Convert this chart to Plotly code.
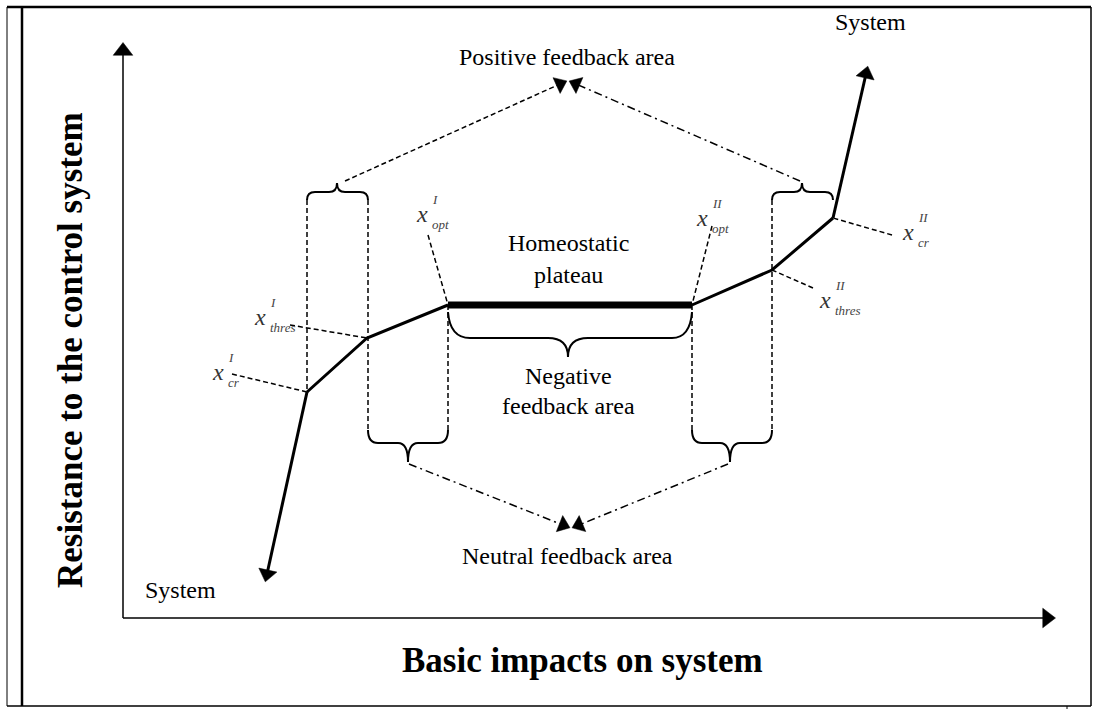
import plotly.graph_objects as go

# ---- data (diagram coordinates: impact -> x, resistance -> y, y grows downward) ----
curve_impact = [307, 367, 448]
curve_resist = [392, 338, 305]
plateau_impact = [448, 692]
plateau_resist = [305, 305]
curve2_impact = [692, 772, 833]
curve2_resist = [305, 270, 218]
low_arrow = ([307, 267], [392, 574])
high_arrow = ([833, 866], [218, 74])

point_labels = [
    # (sup, sub, label x, label y, leader x0, y0, x1, y1)
    ("I", "cr", 218, 372, 232, 374, 307, 392),
    ("I", "thres", 260, 317, 290, 325, 367, 338),
    ("I", "opt", 422, 214, 428, 235, 448, 305),
    ("II", "opt", 702, 218, 712, 226, 692, 305),
    ("II", "thres", 825, 300, 813, 288, 772, 270),
    ("II", "cr", 908, 232, 892, 235, 833, 218),
]

SERIF = "Liberation Serif"
DASH = "5px,3px"
DASHDOT = "8px,4px,2px,4px"
fig = go.Figure()


def line(xs, ys, width=1.5, dash="solid"):
    fig.add_trace(go.Scatter(x=xs, y=ys, mode="lines",
                             line=dict(color="black", width=width, dash=dash),
                             hoverinfo="skip", showlegend=False))


def arrow(xs, ys, width=1.5, dash="solid", size=14):
    line(xs, ys, width=width, dash=dash)
    fig.add_trace(go.Scatter(x=xs[-2:], y=ys[-2:], mode="markers",
                             marker=dict(symbol=["circle", "triangle-up"],
                                         size=[0, size], opacity=1,
                                         color="black", angleref="previous",
                                         line=dict(width=0.5, color="black")),
                             hoverinfo="skip", showlegend=False))


# axes
arrow([123, 123], [618, 51], width=1.5, size=17)
arrow([123, 1047], [618, 618], width=1.5, size=17)

# dashed vertical guides
line([307, 307], [200, 392], dash=DASH)
line([368, 368], [200, 432], dash=DASH)
line([448, 448], [305, 432], dash=DASH)
line([692, 692], [305, 432], dash=DASH)
line([772, 772], [200, 432], dash=DASH)

# curve
line(curve_impact, curve_resist, width=3)
line(curve2_impact, curve2_resist, width=3)
line(plateau_impact, plateau_resist, width=7)
arrow(*low_arrow, width=3, size=16)
arrow(*high_arrow, width=3, size=16)

# leaders + labels
for sup, sub, lx, ly, x0, y0, x1, y1 in point_labels:
    line([x0, x1], [y0, y1], width=1.5, dash=DASH)
    fig.add_annotation(x=lx, y=ly, text="<i>x</i>", showarrow=False,
                       font=dict(family=SERIF, size=24, color="#333"))
    fig.add_annotation(x=lx + 8, y=ly - 15, text="<i>%s</i>" % sup, showarrow=False,
                       xanchor="left", font=dict(family=SERIF, size=13, color="#444"))
    fig.add_annotation(x=lx + 8, y=ly + 10, text="<i>%s</i>" % sub, showarrow=False,
                       xanchor="left", font=dict(family=SERIF, size=13, color="#444"))

# feedback arrows
arrow([345, 560], [181, 84], dash=DASH, size=15)
arrow([800, 576], [181, 84], dash=DASHDOT, size=15)
arrow([409, 563], [464, 525], dash=DASHDOT, size=15)
arrow([728, 579], [464, 525], dash=DASHDOT, size=15)

# braces
braces = [
    "M 307 200 Q 307 192 315 192 L 329 192 Q 337 192 337 183 Q 337 192 345 192 L 360 192 Q 368 192 368 200",
    "M 772 200 Q 772 192 780 192 L 794 192 Q 802 192 802 183 Q 802 192 810 192 L 825 192 Q 833 192 833 200",
    "M 368 430 Q 368 443 378 443 L 398 443 Q 408 443 408 462 Q 408 443 418 443 L 438 443 Q 448 443 448 430",
    "M 692 430 Q 692 443 702 443 L 720 443 Q 730 443 730 462 Q 730 443 740 443 L 762 443 Q 772 443 772 430",
    "M 448 312 Q 450 338 470 338 L 548 338 Q 568 338 568 357 Q 568 338 588 338 L 672 338 Q 690 338 692 312",
]
for p in braces:
    fig.add_shape(type="path", path=p, xref="x", yref="y",
                  line=dict(color="black", width=2))

# frame
frame = [
    (7, 7, 1091, 7, 2.5),
    (7, 7, 7, 706, 1),
    (22, 7, 22, 706, 2.5),
    (7, 706, 1091, 706, 1.5),
    (1091, 7, 1091, 706, 1.5),
    (1067, 706, 1067, 709, 1),
]
for x0, y0, x1, y1, w in frame:
    fig.add_shape(type="line", x0=x0, x1=x1, y0=y0, y1=y1, xref="x", yref="y",
                  line=dict(color="black", width=w))

texts = [
    ("Positive feedback area", 567, 57, 24),
    ("System", 870, 22, 24),
    ("System", 180, 590, 24),
    ("Homeostatic", 568, 243, 24),
    ("plateau", 568, 275, 24),
    ("Negative", 568, 376, 24),
    ("feedback area", 568, 406, 24),
    ("Neutral feedback area", 567, 556, 24),
]
for t, x, y, s in texts:
    fig.add_annotation(x=x, y=y, text=t, showarrow=False,
                       font=dict(family=SERIF, size=s, color="black"))

fig.add_annotation(x=582, y=660, text="<b>Basic impacts on system</b>", showarrow=False,
                   font=dict(family=SERIF, size=35, color="black"))
fig.add_annotation(x=70, y=350, text="<b>Resistance to the control system</b>", showarrow=False,
                   textangle=-90, font=dict(family=SERIF, size=35, color="black"))

fig.update_layout(
    width=1097, height=709,
    margin=dict(l=0, r=0, t=0, b=0),
    paper_bgcolor="white", plot_bgcolor="white",
    xaxis=dict(range=[0, 1097], visible=False, fixedrange=True),
    yaxis=dict(range=[709, 0], visible=False, fixedrange=True),
    showlegend=False,
)
fig.write_html("out.html", config={"displayModeBar": False},
               post_script="document.body.style.margin='0';document.body.style.overflow='hidden';")
